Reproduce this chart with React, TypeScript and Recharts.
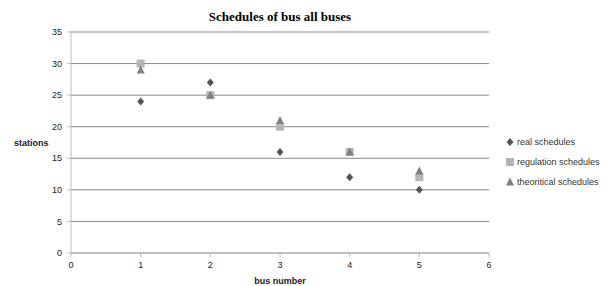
import {
  ScatterChart,
  Scatter,
  XAxis,
  YAxis,
  CartesianGrid,
} from 'recharts';

// page comes with an 8px body margin; drop it so the chart sits at 0,0
document.body.style.margin = '0';

const busNumbers = [1, 2, 3, 4, 5];
const realSchedules = [24, 27, 16, 12, 10];
const regulationSchedules = [30, 25, 20, 16, 12];
const theoriticalSchedules = [29, 25, 21, 16, 13];
const xTicks = [0, 1, 2, 3, 4, 5, 6];
const yTicks = [0, 5, 10, 15, 20, 25, 30, 35];

const toPoints = (values: number[]) =>
  busNumbers.map((bus, i) => ({ bus, stations: values[i] }));

const series = [
  { name: 'real schedules', data: toPoints(realSchedules), color: '#545454', kind: 'diamond' },
  { name: 'regulation schedules', data: toPoints(regulationSchedules), color: '#b4b4b4', kind: 'square' },
  { name: 'theoritical schedules', data: toPoints(theoriticalSchedules), color: '#7f7f7f', kind: 'triangle' },
];

const sans = '"Liberation Sans", Arial, sans-serif';

function Marker({ kind, x, y, color }: { kind: string; x: number; y: number; color: string }) {
  if (kind === 'diamond') {
    return <polygon points={`${x},${y - 4} ${x + 3.5},${y} ${x},${y + 4} ${x - 3.5},${y}`} fill={color} />;
  }
  if (kind === 'square') {
    return <rect x={x - 4} y={y - 4} width={8} height={8} fill={color} />;
  }
  return <polygon points={`${x},${y - 4.5} ${x + 4},${y + 3.5} ${x - 4},${y + 3.5}`} fill={color} />;
}

const shapeFor = (kind: string, color: string) => (props: any) =>
  <Marker kind={kind} x={props.cx} y={props.cy} color={color} />;

// legend drawn by hand, recharts' Legend steals room from the plot
function LegendBox() {
  return (
    <div
      style={{
        position: 'absolute',
        left: 505,
        top: 132,
        fontFamily: sans,
        fontSize: 9,
        color: '#333',
      }}
    >
      {series.map((s) => (
        <div key={s.name} style={{ display: 'flex', alignItems: 'center', height: 20 }}>
          <svg width={10} height={10} style={{ marginRight: 2 }}>
            <Marker kind={s.kind} x={5} y={5} color={s.color} />
          </svg>
          <span>{s.name}</span>
        </div>
      ))}
    </div>
  );
}

export default function App() {
  return (
    <div style={{ position: 'relative', width: 610, height: 286, background: '#fff', overflow: 'hidden' }}>
      <div
        style={{
          position: 'absolute',
          left: 71,
          width: 418,
          top: 9,
          textAlign: 'center',
          fontFamily: '"Liberation Serif", serif',
          fontWeight: 'bold',
          fontSize: 13,
          color: '#000',
        }}
      >
        Schedules of bus all buses
      </div>
      <ScatterChart
        width={610}
        height={286}
        margin={{ top: 32, right: 121, bottom: 0, left: 14 }}
        style={{ fontFamily: sans }}
      >
        <CartesianGrid horizontal vertical={false} stroke="#878787" />
        <XAxis
          type="number"
          dataKey="bus"
          domain={[0, 6]}
          ticks={xTicks}
          interval={0}
          height={33}
          tickSize={4}
          tickMargin={5}
          stroke="#bdbdbd"
          tick={{ fill: '#222', fontSize: 9 }}
        />
        <YAxis
          type="number"
          dataKey="stations"
          domain={[0, 35]}
          ticks={yTicks}
          interval={0}
          width={57}
          tickSize={4}
          tickMargin={5}
          stroke="#bdbdbd"
          tick={{ fill: '#222', fontSize: 9 }}
          label={{ value: 'stations', position: 'insideLeft', offset: 0, fill: '#222', fontSize: 9, fontWeight: 'bold' }}
        />
        {series.map((s) => (
          <Scatter
            key={s.name}
            name={s.name}
            data={s.data}
            fill={s.color}
            shape={shapeFor(s.kind, s.color)}
            isAnimationActive={false}
          />
        ))}
      </ScatterChart>
      <div
        style={{
          position: 'absolute',
          left: 71,
          width: 418,
          top: 276,
          lineHeight: '10px',
          textAlign: 'center',
          fontFamily: sans,
          fontWeight: 'bold',
          fontSize: 9,
          color: '#222',
        }}
      >
        bus number
      </div>
      <LegendBox />
    </div>
  );
}
